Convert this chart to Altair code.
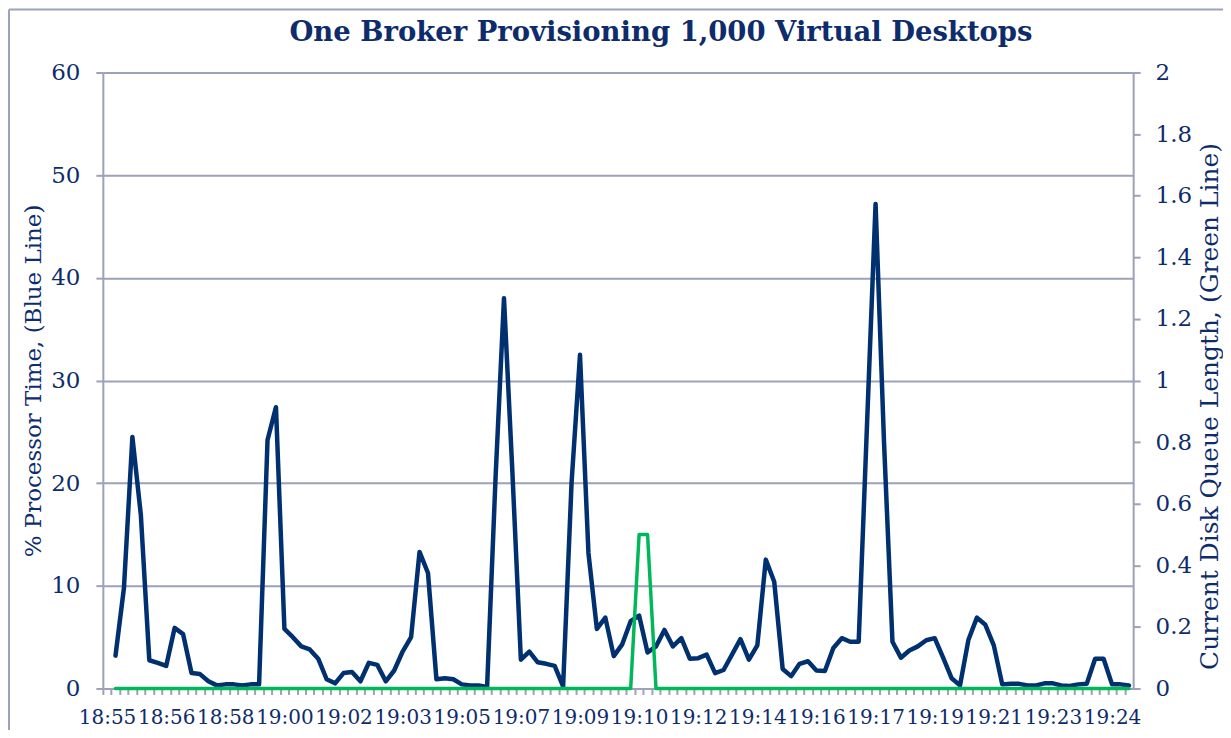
import altair as alt
import pandas as pd

# ---------------- data ----------------
# 122 sampling intervals (15 s each); the first sample has no value
samples = list(range(122))
label_every = 7
tick_labels = ["18:55", "18:56", "18:58", "19:00", "19:02", "19:03", "19:05",
               "19:07", "19:09", "19:10", "19:12", "19:14", "19:16", "19:17",
               "19:19", "19:21", "19:23", "19:24"]

processor_time = [
    None,
    3.2, 9.8, 24.5, 16.9, 2.75, 2.5, 2.2, 5.9, 5.3, 1.5,
    1.4, 0.7, 0.3, 0.4, 0.4, 0.3, 0.4, 0.4, 24.2, 27.4,
    5.8, 5.0, 4.1, 3.8, 2.9, 0.9, 0.5, 1.5, 1.6, 0.7,
    2.5, 2.3, 0.7, 1.75, 3.6, 5.0, 13.3, 11.25, 0.9, 1.0,
    0.9, 0.4, 0.3, 0.3, 0.15, 20.5, 38.0, 21.0, 2.8, 3.6,
    2.55, 2.4, 2.2, 0.2, 20.0, 32.5, 13.2, 5.8, 6.9, 3.15,
    4.3, 6.55, 7.1, 3.5, 4.1, 5.7, 4.1, 4.9, 2.9, 2.95,
    3.3, 1.5, 1.8, 3.3, 4.8, 2.8, 4.2, 12.55, 10.4, 1.9,
    1.2, 2.4, 2.65, 1.75, 1.7, 3.95, 4.9, 4.55, 4.55, 26.0,
    47.2, 24.0, 4.55, 3.0, 3.7, 4.1, 4.7, 4.9, 3.0, 1.0,
    0.3, 4.75, 6.9, 6.2, 4.2, 0.4, 0.45, 0.45, 0.3, 0.3,
    0.5, 0.5, 0.3, 0.25, 0.4, 0.45, 2.9, 2.9, 0.4, 0.4,
    0.3,
]

disk_queue = [
    None,
    0, 0, 0, 0, 0, 0, 0, 0, 0, 0,
    0, 0, 0, 0, 0, 0, 0, 0, 0, 0,
    0, 0, 0, 0, 0, 0, 0, 0, 0, 0,
    0, 0, 0, 0, 0, 0, 0, 0, 0, 0,
    0, 0, 0, 0, 0, 0, 0, 0, 0, 0,
    0, 0, 0, 0, 0, 0, 0, 0, 0, 0,
    0, 0, 0.5, 0.5, 0, 0, 0, 0, 0, 0,
    0, 0, 0, 0, 0, 0, 0, 0, 0, 0,
    0, 0, 0, 0, 0, 0, 0, 0, 0, 0,
    0, 0, 0, 0, 0, 0, 0, 0, 0, 0,
    0, 0, 0, 0, 0, 0, 0, 0, 0, 0,
    0, 0, 0, 0, 0, 0, 0, 0, 0, 0,
    0,
]

left_ticks = [0, 10, 20, 30, 40, 50, 60]
right_ticks = [0, 0.2, 0.4, 0.6, 0.8, 1, 1.2, 1.4, 1.6, 1.8, 2]

df = pd.DataFrame({"sample": samples, "cpu": processor_time, "queue": disk_queue})

# ---------------- styling ----------------
W, H = 1032, 617
step = W / len(samples)
NAVY = "#0E2C6C"
BLUE = "#00306F"
GREEN = "#00B85A"
GRID = "#9DA1B9"
FONT = "DejaVu Serif"

label_js = "[" + ",".join("'%s'" % t for t in tick_labels) + "]"
x_label_expr = (
    f"datum.value % {label_every} == 0 ? {label_js}[datum.value / {label_every}] : ''"
)

x_enc = alt.X(
    "sample:O",
    scale=alt.Scale(type="point", padding=0.5, domain=samples),
    axis=alt.Axis(
        title=None,
        labelExpr=x_label_expr,
        labelAngle=0,
        labelOverlap=False,
        labelFont=FONT,
        labelFontSize=20,
        labelColor=NAVY,
        labelPadding=13,
        tickOffset=-step / 2,
        labelOffset=step / 2,
        tickSize=6,
        tickWidth=2,
        tickColor=GRID,
        domainColor=GRID,
        domainWidth=2,
        grid=False,
    ),
)

base = alt.Chart(df)

blue = base.mark_line(
    color=BLUE, strokeWidth=4.5, strokeJoin="round", strokeCap="round"
).encode(
    x=x_enc,
    y=alt.Y(
        "cpu:Q",
        scale=alt.Scale(domain=[0, 60], nice=False, zero=True),
        axis=alt.Axis(
            orient="left",
            title="% Processor Time, (Blue Line)",
            titleFont=FONT,
            titleFontSize=23,
            titleFontWeight="normal",
            titleColor=NAVY,
            titlePadding=5,
            values=left_ticks,
            labelFont=FONT,
            labelFontSize=23,
            labelColor=NAVY,
            labelPadding=16,
            tickSize=7,
            tickWidth=2,
            tickColor=GRID,
            domainColor=GRID,
            domainWidth=2,
            grid=True,
            gridColor=GRID,
            gridWidth=2,
        ),
    ),
)

green = base.mark_line(
    color=GREEN, strokeWidth=3.5, strokeJoin="round", strokeCap="round"
).encode(
    x=x_enc,
    y=alt.Y(
        "queue:Q",
        scale=alt.Scale(domain=[0, 2], nice=False, zero=True),
        axis=alt.Axis(
            orient="right",
            title="Current Disk Queue Length, (Green Line)",
            titleFont=FONT,
            titleFontSize=25,
            titleFontWeight="normal",
            titleColor=NAVY,
            titleAngle=270,
            titleX=76,
            titleY=334,
            titleAlign="center",
            titleBaseline="middle",
            values=right_ticks,
            format="~g",
            labelFont=FONT,
            labelFontSize=23,
            labelColor=NAVY,
            labelPadding=15,
            tickSize=7,
            tickWidth=2,
            tickColor=GRID,
            domainColor=GRID,
            domainWidth=2,
            grid=False,
        ),
    ),
)

# chart-area frame (top and left edges visible in the reference)
frame_src = alt.Data(values=[{"k": 0}])
frame_top = alt.Chart(frame_src).mark_rule(color=GRID, strokeWidth=2).encode(
    x=alt.value(-94), x2=alt.value(W + 120), y=alt.value(-63)
)
frame_left = alt.Chart(frame_src).mark_rule(color=GRID, strokeWidth=2).encode(
    x=alt.value(-94), y=alt.value(-63), y2=alt.value(H + 60)
)

chart = (
    alt.layer(frame_top, frame_left, blue, green)
    .resolve_scale(y="independent")
    .properties(
        width=W,
        height=H,
        title=alt.TitleParams(
            text="One Broker Provisioning 1,000 Virtual Desktops",
            font=FONT,
            fontSize=27.5,
            fontWeight="bold",
            color=NAVY,
            anchor="middle",
            dx=43,
            dy=52,
            offset=14,
        ),
        autosize=alt.AutoSizeParams(type="none"),
        padding={"left": 95, "top": 64, "right": 90, "bottom": 41},
    )
    .configure_view(stroke=None)
    .configure(background="white")
)

chart.save("out.html", embed_options={"renderer": "svg", "actions": False})
